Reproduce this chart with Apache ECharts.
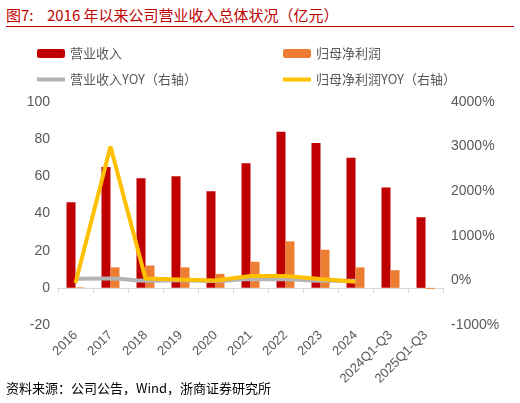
<!DOCTYPE html><html><head><meta charset="utf-8"><script src="https://cdn.jsdelivr.net/npm/echarts@6/dist/echarts.min.js"></script>
<style>body{margin:0;background:#fff;font-family:"Noto Sans CJK SC";}#t{position:absolute;left:6px;top:4px;width:508px;height:22px;border-bottom:1.5px solid #c00000;color:#c00000;font-size:15px;font-family:"Noto Sans CJK SC";}#f{position:absolute;left:6px;top:378px;font-size:13px;color:#000;font-family:"Noto Sans CJK SC";}</style></head><body>
<div id="t">图7:&nbsp;&nbsp;&nbsp;&nbsp;2016 年以来公司营业收入总体状况（亿元）</div>
<div id="c" style="width:520px;height:403px"></div>
<div id="f">资料来源：公司公告，Wind，浙商证券研究所</div>
<script>
const categories=['2016','2017','2018','2019','2020','2021','2022','2023','2024','2024Q1-Q3','2025Q1-Q3'];
const revenue=[46,65,59,60,52,67,84,78,70,54,38];
const profit=[0.3,11,12,11,7.5,14,25,20.5,11,9.5,-0.5];
const revenueYoY=[35,45,-9,2,-13,29,25,-7,-10,null,null];
const profitYoY=[-60,3000,40,20,0,100,100,30,-30,null,null];
const c=echarts.init(document.getElementById('c'));
const lab={color:'#595959',fontSize:14,fontFamily:'Liberation Sans'};
const lt={fontSize:13,color:'#595959',fontFamily:'Noto Sans CJK SC'};
const lg=(l,t,d,icon)=>({top:t,left:l,itemWidth:28,itemHeight:icon?4:9,icon:icon,textStyle:lt,data:[d]});
c.setOption({animation:false,
legend:[lg(32,42,'营业收入'),lg(278,42,'归母净利润'),lg(32,68,'营业收入YOY（右轴）','rect'),lg(278,68,'归母净利润YOY（右轴）','rect')],
grid:{left:58,right:77,top:102,bottom:78},
xAxis:{type:'category',data:categories,axisLine:{onZero:true,lineStyle:{color:'#d9d9d9'}},axisTick:{show:true,lineStyle:{color:'#d9d9d9'}},axisLabel:{...lab,rotate:45,fontSize:13,interval:0}},
yAxis:[{min:-20,max:100,interval:20,splitLine:{show:false},axisLabel:lab},
 {min:-1000,max:4000,interval:1000,splitLine:{show:false},axisLabel:{...lab,formatter:v=>v+'%'}}],
series:[
{name:'营业收入',type:'bar',data:revenue,barWidth:9,barGap:'0%',itemStyle:{color:'#c00000'}},
{name:'归母净利润',type:'bar',data:profit,barWidth:9,itemStyle:{color:'#ed7d31'}},
{name:'营业收入YOY（右轴）',type:'line',yAxisIndex:1,data:revenueYoY,symbol:'none',smooth:true,lineStyle:{color:'#b4b4b4',width:4},itemStyle:{color:'#b4b4b4'}},
{name:'归母净利润YOY（右轴）',type:'line',yAxisIndex:1,data:profitYoY,symbol:'none',lineStyle:{color:'#ffc000',width:4},itemStyle:{color:'#ffc000'}}
]});
</script></body></html>
